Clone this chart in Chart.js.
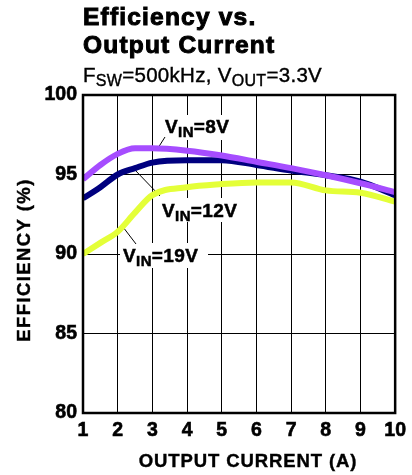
<!DOCTYPE html>
<html>
<head>
<meta charset="utf-8">
<script src="https://cdn.jsdelivr.net/npm/chart.js@4/dist/chart.umd.min.js"></script>
<style>
  html, body { margin: 0; padding: 0; background: #fff; }
  #wrap { width: 412px; height: 475px; }
</style>
</head>
<body>
<div id="wrap"><canvas id="chart" width="412" height="475"></canvas></div>
<script>
// values
const currentA = [1, 1.5, 2, 2.5, 3, 4, 5, 6, 7, 8, 9, 10];
const eff8V  = [94.7, 95.6, 96.3, 96.65, 96.65, 96.5, 96.2, 95.8, 95.4, 94.95, 94.45, 93.9];
const eff12V = [93.5, 94.2, 95.0, 95.4, 95.75, 95.9, 95.9, 95.6, 95.25, 94.95, 94.55, 93.7];
const eff19V = [90.0, 90.7, 91.4, 92.6, 93.7, 94.2, 94.4, 94.5, 94.5, 94.0, 93.85, 93.3];
const xTicks = [1, 2, 3, 4, 5, 6, 7, 8, 9, 10];
const yTicks = [80, 85, 90, 95, 100];

const FONT = '"Liberation Sans", Arial, sans-serif';

function pts(ys) {
  return currentA.map((x, i) => ({ x: x, y: ys[i] }));
}

// draw text made of normal + subscript parts, heavy = extra stroke
function drawRich(ctx, parts, x, y, size, subSize, spacing, heavy) {
  ctx.save();
  ctx.textBaseline = 'alphabetic';
  ctx.textAlign = 'left';
  ctx.letterSpacing = spacing + 'px';
  ctx.strokeStyle = '#000';
  ctx.lineWidth = heavy || 0;
  let cx = x;
  parts.forEach(p => {
    const s = p.sub ? subSize : size;
    ctx.font = (p.bold === false ? '' : 'bold ') + s + 'px ' + FONT;
    const yy = p.sub ? y + 4 : y;
    ctx.fillText(p.t, cx, yy);
    if (heavy) ctx.strokeText(p.t, cx, yy);
    cx += ctx.measureText(p.t).width;
  });
  ctx.restore();
}

function heavyText(ctx, t, x, y, w) {
  ctx.fillText(t, x, y);
  ctx.lineWidth = w;
  ctx.strokeText(t, x, y);
}

const labels = [
  { v: '8V',  box: [162, 115, 76, 25], tx: 165, ty: 133, lead: [165, 137, 158, 148] },
  { v: '12V', box: [158, 198, 86, 24], tx: 162, ty: 217, lead: [160, 196, 135, 170] },
  { v: '19V', box: [120, 243, 88, 25], tx: 123, ty: 262, lead: [136, 244, 123, 227] }
];

const decor = {
  id: 'decor',
  beforeDatasetsDraw(chart) {
    const ctx = chart.ctx;
    ctx.save();
    labels.forEach(l => {
      ctx.fillStyle = '#fff';
      ctx.fillRect(l.box[0], l.box[1], l.box[2], l.box[3]);
      ctx.strokeStyle = '#000';
      ctx.lineWidth = 1;
      ctx.beginPath();
      ctx.moveTo(l.lead[0], l.lead[1]);
      ctx.lineTo(l.lead[2], l.lead[3]);
      ctx.stroke();
      ctx.fillStyle = '#000';
      drawRich(ctx, [{ t: 'V' }, { t: 'IN', sub: true }, { t: '=' + l.v }], l.tx, l.ty, 19, 15, 0.4, 0.5);
    });
    ctx.restore();
  },
  afterDraw(chart) {
    const ctx = chart.ctx;
    const a = chart.chartArea;
    ctx.save();
    ctx.strokeStyle = '#000';
    ctx.lineWidth = 2.5;
    ctx.strokeRect(a.left, a.top, a.right - a.left, a.bottom - a.top);

    ctx.fillStyle = '#000';
    ctx.textBaseline = 'alphabetic';
    ctx.letterSpacing = '1.2px';
    ctx.font = 'bold 24.5px ' + FONT;
    heavyText(ctx, 'Efficiency vs.', 83, 25, 1);
    heavyText(ctx, 'Output Current', 83, 53, 1);

    drawRich(ctx, [
      { t: 'F', bold: false }, { t: 'SW', sub: true, bold: false },
      { t: '=500kHz, V', bold: false }, { t: 'OUT', sub: true, bold: false },
      { t: '=3.3V', bold: false }
    ], 83, 82, 20.5, 16, 0.3, 0.4);

    ctx.letterSpacing = '0.9px';
    ctx.font = 'bold 18.5px ' + FONT;
    ctx.textAlign = 'center';
    heavyText(ctx, 'OUTPUT CURRENT (A)', 248, 467, 0.4);

    ctx.translate(30, 260);
    ctx.rotate(-Math.PI / 2);
    ctx.letterSpacing = '1.4px';
    heavyText(ctx, 'EFFICIENCY (%)', 0, 0, 0.4);
    ctx.restore();
  }
};

new Chart(document.getElementById('chart'), {
  type: 'line',
  data: {
    datasets: [
      { label: 'VIN=8V', data: pts(eff8V), borderColor: '#a64dff', order: 0 },
      { label: 'VIN=12V', data: pts(eff12V), borderColor: '#00007f', order: 1 },
      { label: 'VIN=19V', data: pts(eff19V), borderColor: '#e4ff38', order: 2 }
    ]
  },
  options: {
    responsive: false,
    animation: false,
    layout: { padding: { top: 95, right: 8, left: 0, bottom: 0 } },
    elements: {
      point: { radius: 0 },
      line: { borderWidth: 6, cubicInterpolationMode: 'monotone', borderCapStyle: 'butt' }
    },
    plugins: { legend: { display: false }, title: { display: false }, tooltip: { enabled: false } },
    scales: {
      x: {
        type: 'linear',
        min: 1,
        max: 10,
        afterBuildTicks: s => { s.ticks = xTicks.map(v => ({ value: v })); },
        afterFit: s => { s.height = 62; },
        grid: { color: '#000', lineWidth: 1, drawTicks: false },
        border: { display: false },
        ticks: {
          color: '#000', padding: 6, maxRotation: 0, textStrokeColor: '#000', textStrokeWidth: 0.6,
          font: { family: FONT, size: 19.5, weight: 'bold' }
        }
      },
      y: {
        min: 80,
        max: 100,
        afterBuildTicks: s => { s.ticks = yTicks.map(v => ({ value: v })); },
        afterFit: s => { s.width = 83; },
        grid: { color: '#000', lineWidth: 1, drawTicks: false },
        border: { display: false },
        ticks: {
          color: '#000', padding: 6, textStrokeColor: '#000', textStrokeWidth: 0.6,
          font: { family: FONT, size: 19.5, weight: 'bold' }
        }
      }
    }
  },
  plugins: [decor]
});
</script>
</body>
</html>
